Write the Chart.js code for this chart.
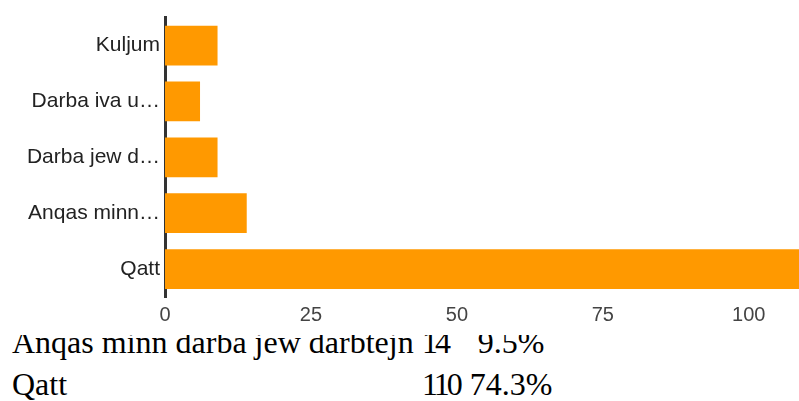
<!DOCTYPE html>
<html>
<head>
<meta charset="utf-8">
<script src="https://cdn.jsdelivr.net/npm/chart.js@4"></script>
<style>
  body { margin: 0; background: #fff; width: 799px; height: 401px; overflow: hidden; position: relative; }
  #chart { position: absolute; left: 0; top: 0; z-index: 1; background: #fff; }
  .row { position: absolute; left: 0; height: 32px; font: 32px "Liberation Serif", "Times New Roman", serif; line-height: 32px; color: #000; white-space: nowrap; }
  .row span { position: absolute; top: 0; }
  .row .num { letter-spacing: -3px; }
</style>
</head>
<body>
<canvas id="chart" width="799" height="335"></canvas>
<div id="table"></div>
<script>
// kategoriji kif jidhru fuq l-assi
const labels = ['Kuljum', 'Darba iva u…', 'Darba jew d…', 'Anqas minn…', 'Qatt'];
// għadd ta' tweġibiet
const counts = [9, 6, 9, 14, 110];
// tikketti tal-assi x
const xTicks = [0, 25, 50, 75, 100];
// ringieli tat-tabella li jidhru taħt il-grafika
const tableNames = ['Anqas minn darba jew darbtejn', 'Qatt'];
const tableIndex = [3, 4];

const total = counts.reduce((a, b) => a + b, 0);

// tabella taħt il-grafika
const table = document.getElementById('table');
const rowTops = [326, 368];
tableNames.forEach((name, i) => {
    const n = counts[tableIndex[i]];
    const pct = (n / total * 100).toFixed(1) + '%';
    const row = document.createElement('div');
    row.className = 'row';
    row.style.top = rowTops[i] + 'px';
    row.style.width = '799px';
    row.innerHTML =
        '<span style="left:12px">' + name + '</span>' +
        '<span class="num" style="left:422px">' + n + '</span>' +
        '<span style="left:451px;width:120px;text-align:center">' + pct + '</span>';
    table.appendChild(row);
});

const ctx = document.getElementById('chart').getContext('2d');
new Chart(ctx, {
    type: 'bar',
    data: {
        labels: labels,
        datasets: [{
            data: counts,
            backgroundColor: '#ff9900',
            borderWidth: 0,
            categoryPercentage: 0.8,
            barPercentage: 0.89
        }]
    },
    options: {
        indexAxis: 'y',
        responsive: false,
        animation: false,
        devicePixelRatio: 1,
        layout: { padding: { top: 8, left: 0, right: 0, bottom: 0 } },
        plugins: { legend: { display: false }, tooltip: { enabled: false } },
        scales: {
            x: {
                min: 0,
                max: 108.6,
                grid: { display: false, drawTicks: false },
                border: { display: false },
                afterBuildTicks: scale => { scale.ticks = xTicks.map(v => ({ value: v })); },
                afterFit: scale => { scale.height = 38; },
                ticks: {
                    padding: 6,
                    color: '#444',
                    font: { family: 'Liberation Sans, Arial, sans-serif', size: 20 }
                }
            },
            y: {
                grid: { display: false, drawTicks: false },
                border: { display: true, color: '#333', width: 3 },
                afterFit: scale => { scale.width = 165; },
                ticks: {
                    padding: 5,
                    color: '#222',
                    font: { family: 'Liberation Sans, Arial, sans-serif', size: 21 }
                }
            }
        }
    }
});
</script>
</body>
</html>
